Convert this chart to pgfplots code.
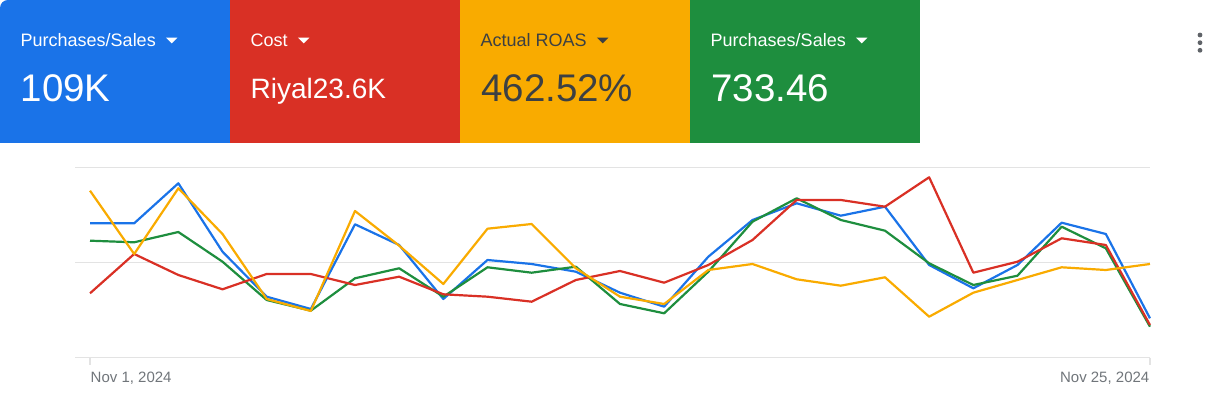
\documentclass[border=0pt]{standalone}
\usepackage{pgfplots}
\pgfplotsset{compat=1.18}
\usepackage{fontspec}
\setmainfont{Liberation Sans}
\usetikzlibrary{calc}
\definecolor{cblue}{HTML}{1A73E8}
\definecolor{cred}{HTML}{D93025}
\definecolor{cyellow}{HTML}{F9AB00}
\definecolor{cgreen}{HTML}{1E8E3E}
\definecolor{tdark}{HTML}{3C4043}
\definecolor{tgray}{HTML}{70757A}
\definecolor{gridgray}{HTML}{E3E3E3}
\definecolor{dotgray}{HTML}{5F6368}
\begin{document}
\begin{tikzpicture}
\begin{axis}[at={(75pt,45.3pt)}, anchor=south west, scale only axis,
  width=1075pt, height=190.2pt, xmin=-0.34, xmax=24, ymin=0, ymax=190.2,
  axis line style={draw=none}, xtick=\empty, ytick={0,95.1,190.2}, yticklabels={},
  major tick length=0pt, ymajorgrids, grid style={draw=gridgray, line width=1.4pt},
  clip=false, every axis plot/.append style={line width=2.2pt, line join=round, mark=none}]
\addplot[cblue] coordinates {(0,134.4)(1,134.4)(2,174.4)(3,106.0)(4,61.0)(5,48.7)(6,133.4)(7,112.7)(8,58.7)(9,97.7)(10,93.7)(11,86.0)(12,65.0)(13,51.0)(14,101.0)(15,137.7)(16,154.4)(17,142.0)(18,151.0)(19,92.7)(20,69.4)(21,92.7)(22,135.0)(23,123.7)(24,39.4)};
\addplot[cgreen] coordinates {(0,117.0)(1,115.4)(2,125.7)(3,96.0)(4,57.7)(5,47.0)(6,79.4)(7,89.4)(8,61.0)(9,90.4)(10,85.0)(11,91.0)(12,53.7)(13,44.4)(14,86.0)(15,136.0)(16,159.4)(17,137.7)(18,127.0)(19,94.4)(20,72.7)(21,82.0)(22,131.0)(23,109.4)(24,31.0)};
\addplot[cred] coordinates {(0,64.4)(1,103.7)(2,82.7)(3,68.4)(4,83.7)(5,83.7)(6,72.7)(7,81.0)(8,63.4)(9,61.0)(10,56.0)(11,77.7)(12,86.7)(13,75.0)(14,92.7)(15,117.7)(16,157.7)(17,157.7)(18,151.0)(19,180.4)(20,85.0)(21,96.0)(22,119.4)(23,112.7)(24,32.7)};
\addplot[cyellow] coordinates {(0,167.0)(1,103.7)(2,169.4)(3,123.7)(4,58.7)(5,46.7)(6,146.7)(7,112.0)(8,73.7)(9,129.0)(10,133.7)(11,89.4)(12,61.0)(13,53.7)(14,87.7)(15,93.7)(16,78.4)(17,72.0)(18,80.4)(19,41.0)(20,65.0)(21,77.7)(22,90.4)(23,87.7)(24,93.7)};
\draw[gridgray, line width=1.4pt] (axis cs:0,0) -- ++(0pt,-7.5pt);
\draw[gridgray, line width=1.4pt] (axis cs:24,0) -- ++(0pt,-7.5pt);
\end{axis}
\begin{scope}[x=1pt,y=1pt]
\path[use as bounding box] (0,0) rectangle (1231,403);
% cards
\fill[cblue] (0,260) [rounded corners=8pt] -- (0,403) [sharp corners] -- (230,403) -- (230,260) -- cycle;
\fill[cred] (230,260) rectangle (460,403);
\fill[cyellow] (460,260) rectangle (690,403);
\fill[cgreen] (690,260) rectangle (920,403);
% labels
\node[anchor=base west, inner sep=0, text=white, font=\fontsize{18}{20}\selectfont] (l1) at (20.5,356) {Purchases/Sales};
\node[anchor=base west, inner sep=0, text=white, font=\fontsize{18}{20}\selectfont] (l2) at (250.5,356) {Cost};
\node[anchor=base west, inner sep=0, text=tdark, font=\fontsize{18}{20}\selectfont] (l3) at (480.5,356) {Actual ROAS};
\node[anchor=base west, inner sep=0, text=white, font=\fontsize{18}{20}\selectfont] (l4) at (710.5,356) {Purchases/Sales};
\foreach \n/\c in {l1/white,l2/white,l3/tdark,l4/white}{
  \fill[\c] ($(\n.base east)+(10,9.4)$) -- ++(11.5,0) -- ++(-5.75,-5.8) -- cycle;
}
% values
\node[anchor=base west, inner sep=0, text=white, font=\fontsize{38.5}{40}\selectfont] at (20.5,301.3) {109K};
\node[anchor=base west, inner sep=0, text=white, font=\fontsize{28}{30}\selectfont] at (250.5,304.5) {Riyal23.6K};
\node[anchor=base west, inner sep=0, text=tdark, font=\fontsize{38.5}{40}\selectfont] at (481,301.3) {462.52\%};
\node[anchor=base west, inner sep=0, text=white, font=\fontsize{38.5}{40}\selectfont] at (711,301.3) {733.46};
% menu dots
\foreach \yy in {368,360.3,352.7}{ \fill[dotgray] (1200,\yy) circle (2.4); }
% axis date labels
\node[anchor=base west, inner sep=0, text=tgray, font=\fontsize{15}{17}\selectfont] at (90.5,20.3) {Nov 1, 2024};
\node[anchor=base east, inner sep=0, text=tgray, font=\fontsize{15}{17}\selectfont] at (1149.5,20.3) {Nov 25, 2024};
\end{scope}
\end{tikzpicture}
\end{document}
